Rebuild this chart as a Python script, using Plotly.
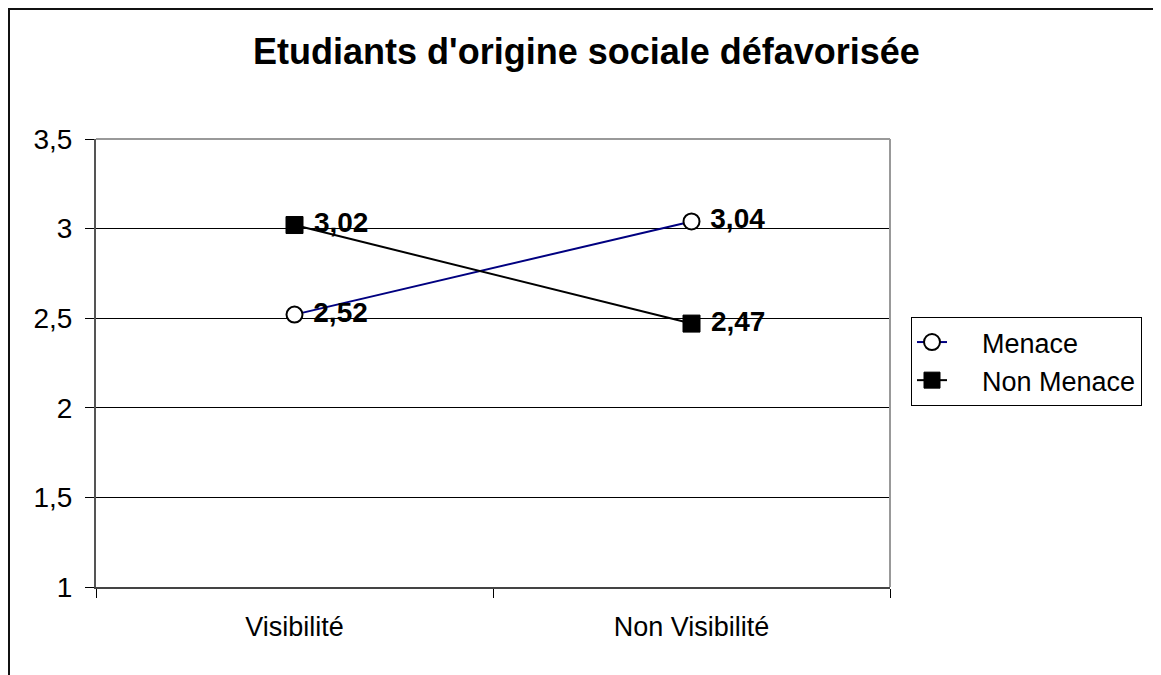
import plotly.graph_objects as go

categories = ["Visibilité", "Non Visibilité"]
series_names = ["Menace", "Non Menace"]
menace = [2.52, 3.04]
non_menace = [3.02, 2.47]
y_ticks = [1, 1.5, 2, 2.5, 3, 3.5]

FONT = "Liberation Sans, Arial, sans-serif"
PAD = "\u00a0" * 4

fig = go.Figure()
fig.add_trace(go.Scatter(
    x=categories, y=menace, name=PAD + series_names[0],
    mode="lines+markers+text",
    line=dict(color="#000080", width=2),
    marker=dict(symbol="circle", size=16, color="white", line=dict(color="black", width=2)),
    texttemplate=" %{y:.2f}", textposition="middle right",
    textfont=dict(family=FONT, size=28, color="black", weight="bold"),
))
fig.add_trace(go.Scatter(
    x=categories, y=non_menace, name=PAD + series_names[1],
    mode="lines+markers+text",
    line=dict(color="black", width=2),
    marker=dict(symbol="square", size=17, color="black", line=dict(color="black", width=1)),
    texttemplate=" %{y:.2f}", textposition="middle right",
    textfont=dict(family=FONT, size=28, color="black", weight="bold"),
))

# page body adds an 8px offset; coordinates below are figure coordinates
W, H = 1153, 667
L, T = 88, 131
Rpx, Bpx = 882, 579
R, B = W - Rpx, H - Bpx
pw, ph = Rpx - L, Bpx - T

def px(x):
    return (x - L) / pw

def py(y):
    return (Bpx - y) / ph

fig.update_layout(
    width=W, height=H,
    margin=dict(l=L, r=R, t=T, b=B),
    paper_bgcolor="white", plot_bgcolor="white",
    separators=", ",
    font=dict(family=FONT, size=27, color="black"),
    title=dict(text="<b>Etudiants d'origine sociale défavorisée</b>",
               x=578.5 / W, xanchor="center", xref="container",
               y=1 - 43 / H, yanchor="middle", yref="container",
               font=dict(family=FONT, size=36, color="black")),
    showlegend=True,
    legend=dict(x=px(903), y=py(309), xanchor="left", yanchor="top",
                bordercolor="black", borderwidth=1, bgcolor="white",
                font=dict(family=FONT, size=27, color="black"),
                tracegroupgap=0),
    xaxis=dict(type="category", range=[-0.5, 1.5], tickson="boundaries",
               ticks="outside", ticklen=9, tickcolor="black", tickwidth=1,
               showgrid=False, showline=True, linecolor="#444444", linewidth=2,
               ticklabelstandoff=15,
               tickfont=dict(family=FONT, size=27, color="black")),
    yaxis=dict(range=[1, 3.5], tickvals=y_ticks, ticks="outside", ticklen=9,
               tickcolor="black", tickwidth=1, showgrid=True, gridcolor="black",
               gridwidth=1, zeroline=False, showline=True, linecolor="#555555",
               linewidth=2, ticklabelstandoff=7,
               tickfont=dict(family=FONT, size=28, color="black")),
    shapes=[
        dict(type="line", xref="paper", yref="paper", x0=0, x1=1, y0=1, y1=1,
             line=dict(color="#999999", width=2)),
        dict(type="line", xref="paper", yref="paper", x0=1, x1=1, y0=0, y1=1,
             line=dict(color="#999999", width=2)),
        dict(type="line", xref="paper", yref="paper", x0=px(0), x1=px(W + 5),
             y0=py(1), y1=py(1), line=dict(color="#111111", width=2)),
        dict(type="line", xref="paper", yref="paper", x0=px(1), x1=px(1),
             y0=py(0), y1=py(H + 5), line=dict(color="#111111", width=2)),
    ],
)

fig.write_html("out.html")
